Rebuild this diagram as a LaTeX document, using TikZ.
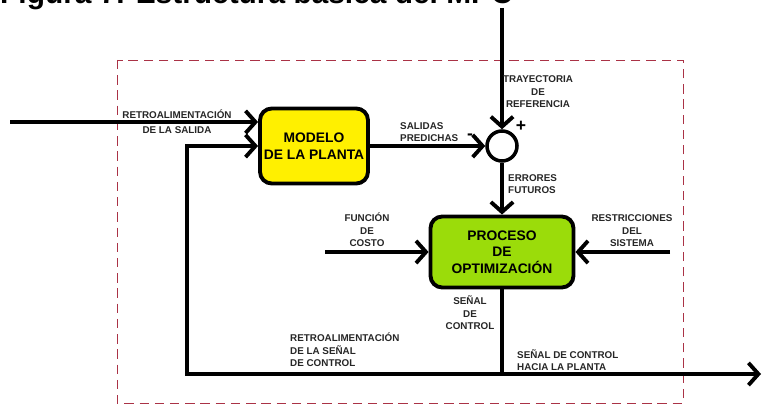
\documentclass[tikz,border=0pt]{standalone}
\usepackage{fontspec}
\setmainfont{Liberation Sans}
\usetikzlibrary{arrows.meta}

\definecolor{framered}{RGB}{170,50,70}
\definecolor{plantyellow}{RGB}{255,240,0}
\definecolor{optgreen}{RGB}{155,220,10}

\tikzset{
  wire/.style={line width=3.3pt},
  flow/.style={wire, -{Straight Barb[length=8.5pt,width=19pt]}},
  block/.style={draw, line width=3.3pt, rounded corners=10pt, align=center,
    inner sep=0pt, font=\bfseries\fontsize{11.8}{14}\selectfont},
  lbl/.style={inner sep=0pt, text=black!85, font=\bfseries\fontsize{8.4}{10.6}\selectfont},
}

\begin{document}
\begin{tikzpicture}[x=0.03cm, y=-0.03cm]

  \useasboundingbox (0,0) rectangle (762,405);
  \clip (0,0) rectangle (762,405);

  % caption, cut off by the top edge
  \node[anchor=base west, inner sep=0pt, font=\bfseries\fontsize{25.5}{30}\selectfont]
    (title) at (0,4) {Figura 7. Estructura básica del MPC};

  % dashed controller frame
  \draw[framered, dashed, dash pattern=on 8pt off 5pt, line width=0.8pt]
    (117,60) rectangle (683,403);

  % blocks
  \node[block, fill=plantyellow, minimum width=3.24cm, minimum height=2.25cm]
    (model) at (314,146) {MODELO\\DE LA PLANTA};
  \node[block, fill=optgreen, minimum width=4.29cm, minimum height=2.13cm]
    (opt) at (502,252) {PROCESO\\DE\\OPTIMIZACIÓN};
  \node[draw, circle, line width=3pt, minimum size=0.9cm, inner sep=0pt]
    (sum) at (502,146) {};

  % free ends
  \coordinate (refin) at (502,8);
  \coordinate (fbin) at (10,122);
  \coordinate (costin) at (325,252);
  \coordinate (restin) at (670,252);
  \coordinate (ctl) at (502,374);
  \coordinate (back) at (187,374);
  \coordinate (plant) at (761,374);

  % connectors
  \draw[flow] (refin) -- (sum);
  \draw[flow] (fbin) -- (fbin -| model.west);
  \draw[flow] (model) -- (sum);
  \draw[flow] (sum) -- (opt);
  \draw[flow] (costin) -- (opt);
  \draw[flow] (restin) -- (opt);
  \draw[flow] (opt) -- (ctl) -- (plant);
  \draw[flow] (ctl) -- (back) |- (model.west);

  % signs at the summing point
  \node[inner sep=0pt, font=\bfseries\fontsize{15}{16}\selectfont] (plus) at (521,126) {+};
  \node[inner sep=0pt, font=\bfseries\fontsize{15}{16}\selectfont] (minus) at (470,137) {-};

  % labels
  \node[lbl, align=center] (fblbl) at (177,122) {RETROALIMENTACIÓN\\[2pt]DE LA SALIDA};
  \node[lbl, align=center] (reflbl) at (538,92) {TRAYECTORIA\\DE\\REFERENCIA};
  \node[lbl, align=left, anchor=west] (predlbl) at (400,132) {SALIDAS\\PREDICHAS};
  \node[lbl, align=left, anchor=west] (errlbl) at (508,184) {ERRORES\\FUTUROS};
  \node[lbl, align=center] (costlbl) at (367,230) {FUNCIÓN\\DE\\COSTO};
  \node[lbl, align=center] (restlbl) at (632,231) {RESTRICCIONES\\DEL\\SISTEMA};
  \node[lbl, align=center] (ctllbl) at (470,313) {SEÑAL\\DE\\CONTROL};
  \node[lbl, align=left, anchor=west] (backlbl) at (290,350) {RETROALIMENTACIÓN\\DE LA SEÑAL\\DE CONTROL};
  \node[lbl, align=left, anchor=west] (plantlbl) at (517,360) {SEÑAL DE CONTROL\\HACIA LA PLANTA};

\end{tikzpicture}
\end{document}
